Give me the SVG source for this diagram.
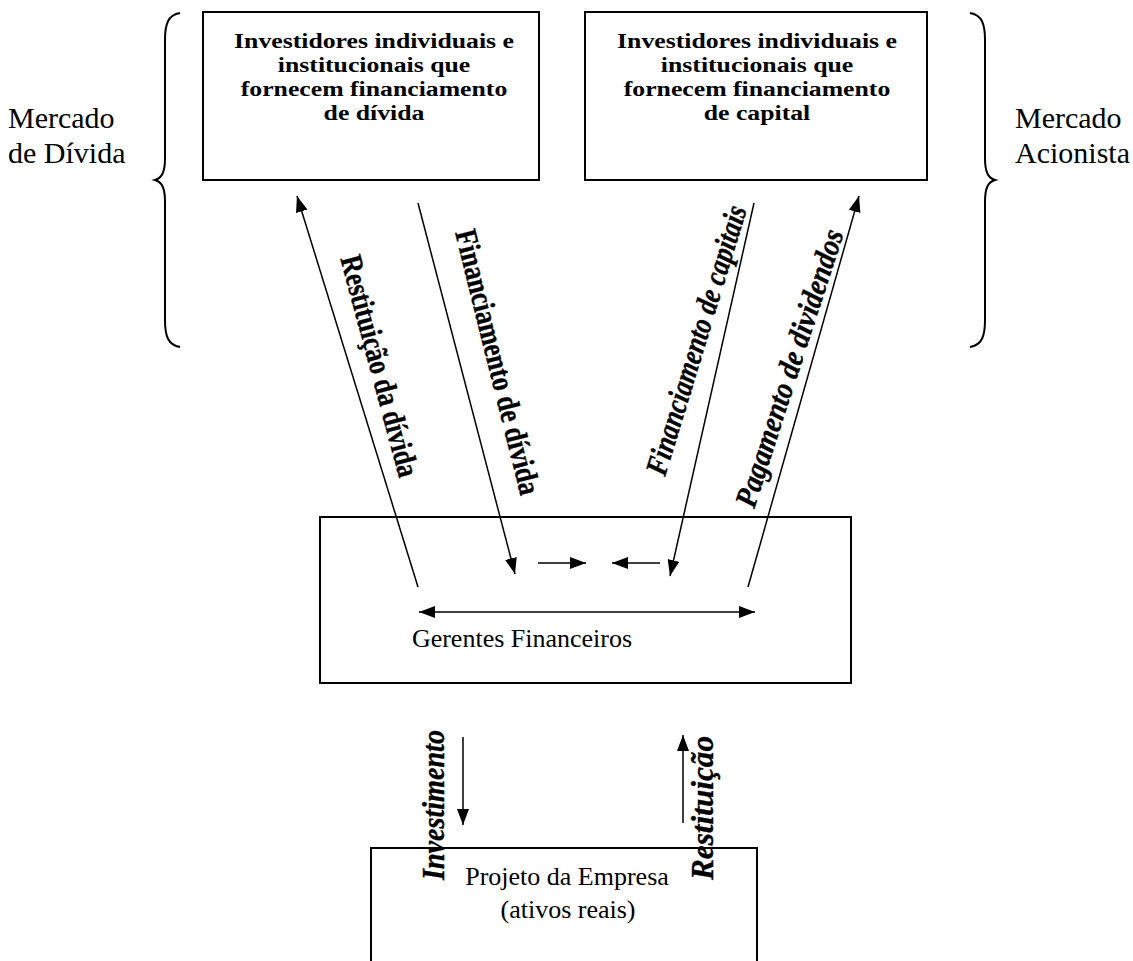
<svg xmlns="http://www.w3.org/2000/svg" width="1133" height="961" viewBox="0 0 1133 961">
<defs>
<marker id="ah" viewBox="0 0 16 12" refX="16" refY="6" markerWidth="16" markerHeight="12" orient="auto-start-reverse" markerUnits="userSpaceOnUse"><path d="M0,0 L16,6 L0,12 z" fill="#000"/></marker>
<style>
.box{fill:#fff;stroke:#000;stroke-width:2}
.bt{font-family:"Liberation Serif",serif;font-weight:bold;font-size:22px;text-anchor:middle}
.rt{font-family:"Liberation Serif",serif;font-size:30px}
.ct{font-family:"Liberation Serif",serif;font-size:26px;text-anchor:middle}
.lbl{font-family:"Liberation Serif",serif;font-weight:bold;font-size:31px;text-anchor:middle;dominant-baseline:central;stroke:#000;stroke-width:0.4}
.it{font-style:italic}
.ln{stroke:#000;stroke-width:1.5;fill:none}
.br{stroke:#000;stroke-width:2;fill:none}
</style>
</defs>
<rect width="1133" height="961" fill="#fff"/>
<g id="braces">
<path class="br" d="M180,13 C168,15 165,24 165,40 L165,158 C165,172 162,178 155,180 C162,182 165,188 165,202 L165,320 C165,336 168,345 180,347"/>
<path class="br" d="M970,13 C982,15 985,24 985,40 L985,158 C985,172 988,178 995,180 C988,182 985,188 985,202 L985,320 C985,336 982,345 970,347"/>
</g>
<g id="mercado-divida"><text class="rt" x="8" y="128">Mercado</text><text class="rt" x="8" y="163">de Dívida</text></g>
<g id="mercado-acionista"><text class="rt" x="1015" y="128">Mercado</text><text class="rt" x="1015" y="163">Acionista</text></g>
<g id="investidores-divida">
<rect class="box" x="203" y="12" width="336" height="168"/>
<g transform="translate(374,0) scale(1.17,1)">
<text class="bt" x="0" y="48">Investidores individuais e</text>
<text class="bt" x="0" y="72">institucionais que</text>
<text class="bt" x="0" y="96">fornecem financiamento</text>
<text class="bt" x="0" y="120">de dívida</text>
</g>
</g>
<g id="investidores-capital">
<rect class="box" x="585" y="12" width="342" height="168"/>
<g transform="translate(757,0) scale(1.17,1)">
<text class="bt" x="0" y="48">Investidores individuais e</text>
<text class="bt" x="0" y="72">institucionais que</text>
<text class="bt" x="0" y="96">fornecem financiamento</text>
<text class="bt" x="0" y="120">de capital</text>
</g>
</g>
<g id="gerentes">
<rect class="box" x="320" y="517" width="531" height="166"/>
<text class="ct" x="522" y="647">Gerentes Financeiros</text>
</g>
<g id="projeto">
<rect class="box" x="371" y="848" width="386" height="120"/>
<text class="ct" x="567" y="885">Projeto da Empresa</text>
<text class="ct" x="568" y="918">(ativos reais)</text>
</g>
<g id="connectors">
<line class="ln" x1="418" y1="587" x2="297" y2="196" marker-end="url(#ah)"/>
<line class="ln" x1="418" y1="203" x2="515" y2="574" marker-end="url(#ah)"/>
<line class="ln" x1="754" y1="203" x2="670" y2="576" marker-end="url(#ah)"/>
<line class="ln" x1="748" y1="587" x2="859" y2="196" marker-end="url(#ah)"/>
<line class="ln" x1="538" y1="563" x2="586" y2="563" marker-end="url(#ah)"/>
<line class="ln" x1="660" y1="563" x2="612" y2="563" marker-end="url(#ah)"/>
<line class="ln" x1="419" y1="612" x2="755" y2="612" marker-start="url(#ah)" marker-end="url(#ah)"/>
<line class="ln" x1="463" y1="737" x2="463" y2="825" marker-end="url(#ah)"/>
<line class="ln" x1="683" y1="823" x2="683" y2="735" marker-end="url(#ah)"/>
</g>
<g id="labels">
<text class="lbl" transform="translate(380,366) rotate(75)" textLength="228" lengthAdjust="spacingAndGlyphs">Restituição da dívida</text>
<text class="lbl" transform="translate(498,362) rotate(76)" textLength="272" lengthAdjust="spacingAndGlyphs">Financiamento de dívida</text>
<text class="lbl it" transform="translate(696,340) rotate(-73)" textLength="280" lengthAdjust="spacingAndGlyphs">Financiamento de capitais</text>
<text class="lbl it" transform="translate(789,368) rotate(-72)" textLength="290" lengthAdjust="spacingAndGlyphs">Pagamento de dividendos</text>
<text class="lbl it" transform="translate(433,805) rotate(-90)" textLength="150" lengthAdjust="spacingAndGlyphs">Investimento</text>
<text class="lbl it" transform="translate(702,808) rotate(-90)" textLength="144" lengthAdjust="spacingAndGlyphs">Restituição</text>
</g>
</svg>
